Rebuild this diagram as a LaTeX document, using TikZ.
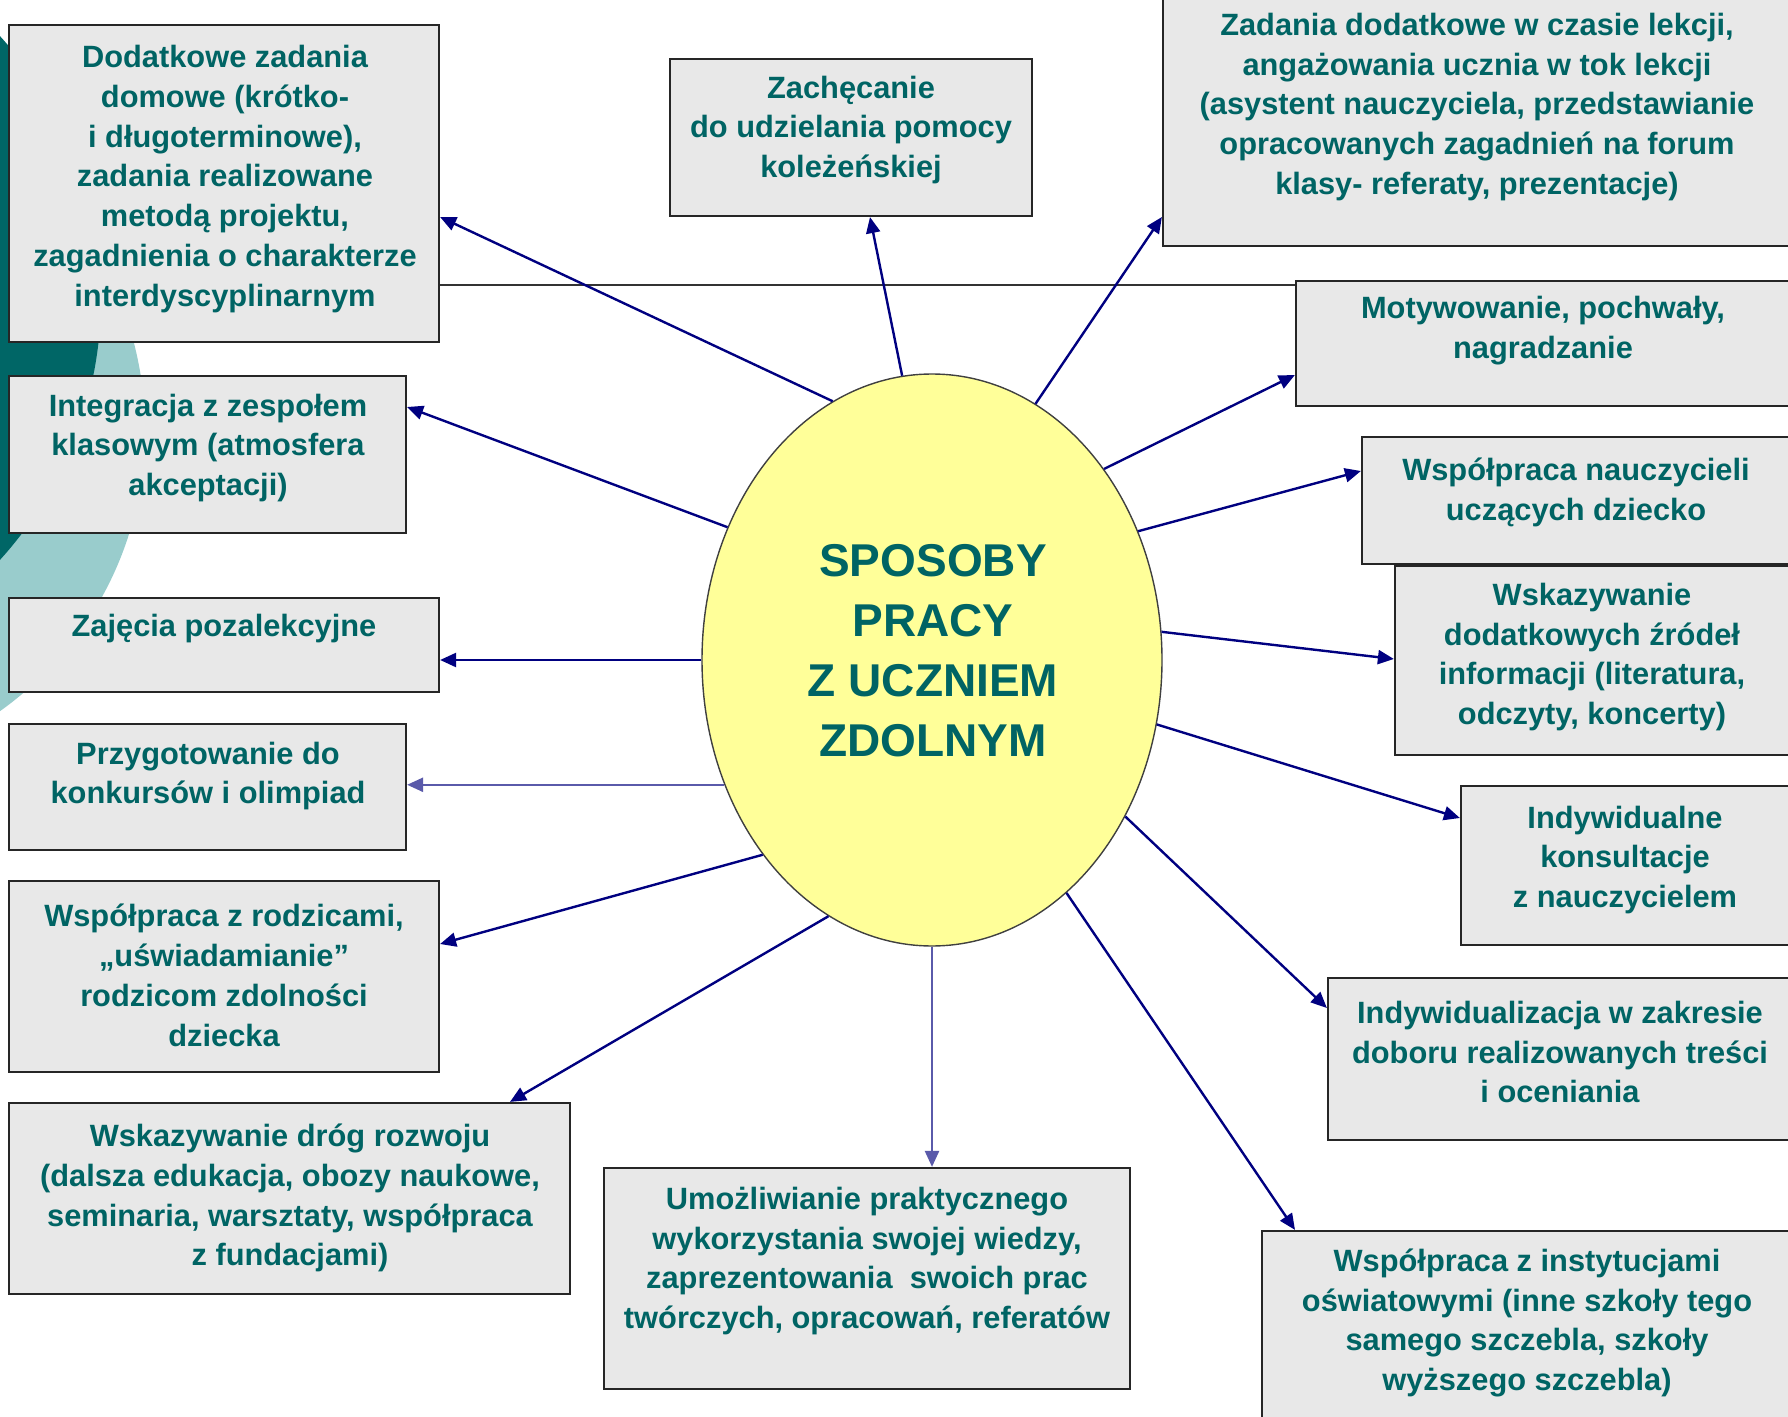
\documentclass[tikz,border=0pt]{standalone}
\usepackage{fontspec}
\setmainfont{Liberation Sans}
\usetikzlibrary{shapes.geometric,arrows.meta,fit}
\definecolor{tealtxt}{RGB}{0,100,100}
\definecolor{boxfill}{RGB}{232,232,232}
\definecolor{darkteal}{RGB}{0,102,102}
\definecolor{lightteal}{RGB}{153,204,204}
\definecolor{navyarr}{RGB}{0,0,128}
\definecolor{lightarr}{RGB}{90,90,170}
\definecolor{ellfill}{RGB}{255,255,153}
\tikzset{
  box/.style={draw=black!85, line width=1.1pt, fill=boxfill, inner sep=0pt},
  txt/.style={align=center, text=tealtxt, font=\bfseries\fontsize{15.4}{19.95}\selectfont, inner sep=0pt},
  arr/.style={draw=navyarr, line width=1.2pt, -{Triangle[length=8pt,width=7pt]}},
  arrlight/.style={arr, draw=lightarr},
}
\begin{document}
\begin{tikzpicture}[x=0.5pt,y=-0.5pt]
\useasboundingbox (0,0) rectangle (1788,1417);
\clip (0,0) rectangle (1788,1417);
% background shapes
\fill[lightteal] (-200,430) circle[radius=172.5pt];
\fill[darkteal] (-289,298) circle[radius=195pt];
% boxes
\node[box, fit={(9,25) (439,342)}] (b1) {};
\node[box, fit={(9,376) (406,533)}] (b2) {};
\node[box, fit={(9,598) (439,692)}] (b3) {};
\node[box, fit={(9,724) (406,850)}] (b4) {};
\node[box, fit={(9,881) (439,1072)}] (b5) {};
\node[box, fit={(9,1103) (570,1294)}] (b6) {};
\node[box, fit={(604,1168) (1130,1389)}] (b7) {};
\node[box, fit={(1262,1231) (1800,1440)}] (b8) {};
\node[box, fit={(1328,978) (1800,1140)}] (b9) {};
\node[box, fit={(1461,786) (1800,945)}] (b10) {};
\node[box, fit={(1395,566) (1800,755)}] (b11) {};
\node[box, fit={(1362,437) (1800,564)}] (b12) {};
\node[box, fit={(1296,281) (1800,406)}] (b13) {};
\node[box, fit={(1163,-20) (1800,246)}] (b14) {};
\node[box, fit={(670,59) (1032,216)}] (b15) {};
% horizontal line
\draw[line width=1pt, black!80] (b1.east |- 0,285) -- (b13.west |- 0,285);
% central ellipse
\node[ellipse, draw=black!75, line width=0.7pt, fill=ellfill, minimum width=230pt, minimum height=286pt, inner sep=0pt] (c) at (932,660) {};
\node[align=center, text=tealtxt, font=\bfseries\fontsize{23}{30}\selectfont, inner sep=0pt] (title) at (933,651) {SPOSOBY\\PRACY\\Z UCZNIEM\\ZDOLNYM};
% texts
\node[txt] (t1) at (225,179) {Dodatkowe zadania\\domowe (krótko-\\i długoterminowe),\\zadania realizowane\\metodą projektu,\\zagadnienia o charakterze\\interdyscyplinarnym};
\node[txt] (t2) at (208,448) {Integracja z zespołem\\klasowym (atmosfera\\akceptacji)};
\node[txt] (t3) at (224,629) {Zajęcia pozalekcyjne};
\node[txt] (t4) at (208,776) {Przygotowanie do\\konkursów i olimpiad};
\node[txt] (t5) at (224,975) {Współpraca z rodzicami,\\„uświadamianie”\\rodzicom zdolności\\dziecka};
\node[txt] (t6) at (290,1198) {Wskazywanie dróg rozwoju\\(dalsza edukacja, obozy naukowe,\\seminaria, warsztaty, współpraca\\z fundacjami)};
\node[txt] (t7) at (867,1261) {Umożliwianie praktycznego\\wykorzystania swojej wiedzy,\\zaprezentowania~ swoich prac\\twórczych, opracowań, referatów};
\node[txt] (t8) at (1527,1323) {Współpraca z instytucjami\\oświatowymi (inne szkoły tego\\samego szczebla, szkoły\\wyższego szczebla)};
\node[txt] (t9) at (1560,1052) {Indywidualizacja w zakresie\\doboru realizowanych treści\\i oceniania};
\node[txt] (t10) at (1625,860) {Indywidualne\\konsultacje\\z nauczycielem};
\node[txt] (t11) at (1592,657) {Wskazywanie\\dodatkowych źródeł\\informacji (literatura,\\odczyty, koncerty)};
\node[txt] (t12) at (1576,492) {Współpraca nauczycieli\\uczących dziecko};
\node[txt] (t13) at (1543,331) {Motywowanie, pochwały,\\nagradzanie};
\node[txt] (t14) at (1477,107) {Zadania dodatkowe w czasie lekcji,\\angażowania ucznia w tok lekcji\\(asystent nauczyciela, przedstawianie\\opracowanych zagadnień na forum\\klasy- referaty, prezentacje)};
\node[txt] (t15) at (851,130) {Zachęcanie\\do udzielania pomocy\\koleżeńskiej};
% connectors
\draw[arr] (c.111.4) -- (b1.east |- 0,217);
\draw[arr] (c.96.2) -- (b15.south -| 870,0);
\draw[arr] (c.68.2) -- (b14.west |- 0,217);
\draw[arr] (c.48.5) -- (b13.west |- 0,375);
\draw[arr] (c.32.6) -- (b12.west |- 0,471);
\draw[arr] (c.7.6) -- (b11.west |- 0,659);
\draw[arr] (c.344.6) -- (b10.west |- 0,818);
\draw[arr] (c.321.5) -- (b9.west |- 0,1008);
\draw[arr] (c.300.9) -- (b8.north -| 1295,0);
\draw[arrlight] (c.south) -- (b7.north -| c.south);
\draw[arr] (c.248.6) -- (b6.north -| 510,0);
\draw[arr] (c.229.7) -- (b5.east |- 0,944);
\draw[arrlight] (c.211.7) -- (b4.east |- c.211.7);
\draw[arr] (c.west) -- (b3.east |- c.west);
\draw[arr] (c.147) -- (b2.east |- 0,407);
\end{tikzpicture}
\end{document}
